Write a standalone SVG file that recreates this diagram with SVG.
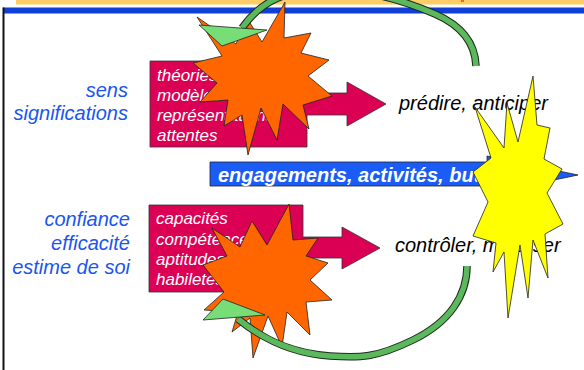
<svg xmlns="http://www.w3.org/2000/svg" width="584" height="370" viewBox="0 0 584 370">
<style>
.lbl{font-family:"Liberation Sans",Arial,sans-serif;font-style:italic;font-size:20px;fill:#1a55f0}
.box{fill:#dc0055;stroke:#333;stroke-width:0.8}
.wt{font-family:"Liberation Sans",Arial,sans-serif;font-style:italic;font-size:17px;fill:#fff}
.rt{font-family:"Liberation Sans",Arial,sans-serif;font-style:italic;font-size:20px;fill:#000}
.bt{font-family:"Liberation Sans",Arial,sans-serif;font-style:italic;font-weight:bold;font-size:20px;fill:#fff}
.star{fill:#ff6600;stroke:#222;stroke-width:0.8;stroke-linejoin:miter}
.ystar{fill:#ffff00;stroke:#222;stroke-width:0.8}
.bandO{fill:none;stroke:#1e2a1e;stroke-width:7.5}
.bandI{fill:none;stroke:#5cb85c;stroke-width:5.5}
.head{fill:#77dd77;stroke:#222;stroke-width:0.8}
</style>
<rect width="584" height="370" fill="#fff"/>
<g id="header">
<rect x="16" y="0" width="568" height="4.5" fill="#ffcc66"/>
<rect x="461" y="0" width="3" height="2" fill="#ff6600"/>
<rect x="3" y="7.5" width="581" height="6" fill="#0f3fd6"/>
<rect x="2.5" y="7.5" width="2" height="362.5" fill="#111"/>
</g>
<g id="label-sens">
<text class="lbl" x="128" y="97" text-anchor="end">sens</text>
<text class="lbl" x="128" y="120" text-anchor="end">significations</text>
</g>
<g id="label-confiance">
<text class="lbl" x="130" y="226" text-anchor="end">confiance</text>
<text class="lbl" x="130" y="250" text-anchor="end">efficacité</text>
<text class="lbl" x="130" y="274" text-anchor="end">estime de soi</text>
</g>
<g id="box-theories">
<polygon class="box" points="150,61 307,61 307,93 347,93 347,82 386,104 347,126 347,115 307,115 307,147 150,147"/>
<text class="wt" x="157" y="80.5">théories</text>
<text class="wt" x="157" y="100.5">modèles</text>
<text class="wt" x="157" y="120.5">représentations</text>
<text class="wt" x="157" y="140.5">attentes</text>
</g>
<g id="box-capacites">
<polygon class="box" points="149,205 303,205 303,237 342,237 342,227 380,248 342,269 342,258 303,258 303,292 149,292"/>
<text class="wt" x="156" y="224">capacités</text>
<text class="wt" x="156" y="244.5">compétences</text>
<text class="wt" x="156" y="264.5">aptitudes</text>
<text class="wt" x="156" y="285">habiletés</text>
</g>
<g id="bar-engagements">
<polygon points="210,162 487,162 487,156 578,175 487,194 487,186 210,186" fill="#1a5cf5" stroke="#222" stroke-width="0.8"/>
<text class="bt" x="218" y="182">engagements, activités, buts</text>
</g>
<g id="predire">
<text class="rt" x="399" y="110">prédire, anticiper</text>
</g>
<g id="controler">
<text class="rt" x="395" y="252">contrôler, maîtriser</text>
</g>
<g id="star-top">
<polygon class="star" points="285,2 284,38 311,33 301,53 329,60 308,76 332,96 303,105 309,129 283,104 277,140 261,108 248,155 242,115 224,126 228,100 200,102 217,83 193,63 222,56 197,17 236,44 247,18 262,42"/>
</g>
<g id="star-bottom">
<polygon class="star" points="289,204 293,240 318,238 306,256 328,263 310,280 332,300 306,302 310,335 287,312 282,347 268,316 253,358 250,318 232,332 238,312 204,310 224,292 203,265 227,256 212,228 240,247 252,221 267,245"/>
</g>
<g id="connectors">
<path class="bandO" d="M476,66 C475,40 458,24 435,14 S375,-10 330,-10 S262,0 242,28"/>
<path class="bandI" d="M476,66 C475,40 458,24 435,14 S375,-10 330,-10 S262,0 242,28"/>
<polygon class="head" points="199,25 267,30 222,46"/>
<path class="bandO" d="M467,266 C467,295 450,322 413,340 S360,358 330,356 S270,345 238,319"/>
<path class="bandI" d="M467,266 C467,295 450,322 413,340 S360,358 330,356 S270,345 238,319"/>
<polygon class="head" points="203,320 223,299 265,315"/>
</g>
<g id="star-yellow">
<polygon class="ystar" points="533,76 537,125 550,128 544,159 562,169 547,193 563,224 545,234 548,278 533,240 528,298 520,245 508,318 504,252 493,272 496,243 473,236 488,202 473,172 491,158 475,107 504,148 507,103 518,142"/>
</g>
</svg>
